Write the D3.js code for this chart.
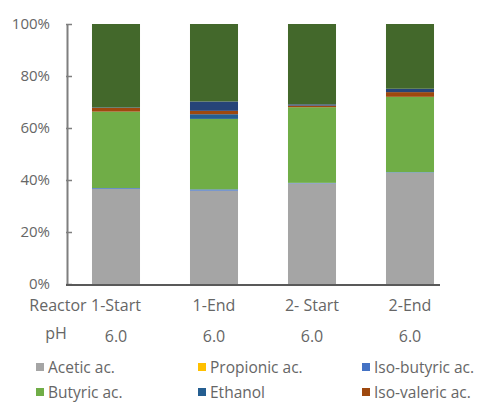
<html>
  <head>
    <title>Stacked composition</title>
    <script src="https://d3js.org/d3.v7.min.js"></script>
    <style>
      body { margin: 0; background: #fff; }
      text { font-family: "Open Sans", Lato, sans-serif; fill: #666; }
    </style>
  </head>
  <body>
    <svg width="478" height="403" id="chart"></svg>
  </body>

  <script type="text/javascript">
    // samples along the x axis
    var samples = ["1-Start", "1-End", "2- Start", "2-End"];
    var phValues = ["6.0", "6.0", "6.0", "6.0"];

    // percentage of each compound per sample (bottom to top)
    var acetic     = [36.6, 35.9, 38.7, 42.8];
    var propionic  = [0.0, 0.0, 0.0, 0.0];
    var isoButyric = [0.3, 0.5, 0.2, 0.2];
    var butyric    = [29.4, 27.1, 29.1, 29.0];
    var ethanol    = [0.0, 1.8, 0.0, 0.0];
    var isoValeric = [1.4, 1.3, 0.6, 1.8];
    var valeric    = [0.2, 3.6, 0.5, 1.3];
    var caproic    = [32.1, 29.8, 30.9, 24.9];

    var seriesNames = ["Acetic ac.", "Propionic ac.", "Iso-butyric ac.", "Butyric ac.",
                       "Ethanol", "Iso-valeric ac.", "Valeric ac.", "Caproic ac."];
    var seriesValues = [acetic, propionic, isoButyric, butyric, ethanol, isoValeric, valeric, caproic];
    var seriesColors = ["#a5a5a5", "#ffc000", "#4472c4", "#70ad47",
                        "#255e91", "#9e480e", "#264478", "#43682b"];

    var yTicks = [0, 20, 40, 60, 80, 100];

    // rows for d3.stack
    var rows = samples.map(function(s, i) {
      var r = { sample: s };
      seriesNames.forEach(function(n, j) { r[n] = seriesValues[j][i]; });
      return r;
    });

    var svg = d3.select("#chart");

    var x = d3.scaleBand().domain(samples).range([67, 459]).paddingInner(0.51).paddingOuter(0.255);
    var y = d3.scaleLinear().domain([0, 100]).range([284, 24]);

    var stacked = d3.stack().keys(seriesNames)(rows);

    svg.append("g").selectAll("g")
      .data(stacked)
      .enter().append("g")
        .attr("fill", function(d, i) { return seriesColors[i]; })
      .selectAll("rect")
      .data(function(d) { return d; })
      .enter().append("rect")
        .attr("x", function(d) { return x(d.data.sample); })
        .attr("width", x.bandwidth())
        .attr("y", function(d) { return y(d[1]); })
        .attr("height", function(d) { return y(d[0]) - y(d[1]); });

    // y axis
    var yAxis = svg.append("g")
      .attr("transform", "translate(67,0)")
      .call(d3.axisLeft(y).tickValues(yTicks).tickSize(0).tickPadding(17)
        .tickFormat(function(d) { return d + "%"; }));
    yAxis.select(".domain").attr("stroke", "#7f7f7f").attr("stroke-width", 2);
    yAxis.selectAll("text").style("font-size", "15px").attr("fill", "#666");
    yAxis.selectAll(".tick").append("line")
      .attr("x1", -1).attr("x2", 5)
      .attr("stroke", "#7f7f7f").attr("stroke-width", 1.5);

    // baseline
    svg.append("line")
      .attr("x1", 66).attr("x2", 440)
      .attr("y1", y(0) + 1).attr("y2", y(0) + 1)
      .attr("stroke", "#595959").attr("stroke-width", 2);

    // category rows
    svg.append("text").attr("x", 58).attr("y", 311)
      .attr("text-anchor", "middle").style("font-size", "16px").text("Reactor");
    svg.append("text").attr("x", 56).attr("y", 339)
      .attr("text-anchor", "middle").style("font-size", "16px").text("pH");

    svg.append("g").selectAll("text")
      .data(samples)
      .enter().append("text")
        .attr("x", function(d) { return x(d) + x.bandwidth() / 2; })
        .attr("y", 311)
        .attr("text-anchor", "middle")
        .style("font-size", "16px")
        .text(function(d) { return d; });

    svg.append("g").selectAll("text")
      .data(phValues)
      .enter().append("text")
        .attr("x", function(d, i) { return x(samples[i]) + x.bandwidth() / 2; })
        .attr("y", 342)
        .attr("text-anchor", "middle")
        .style("font-size", "16px")
        .text(function(d) { return d; });

    // legend (only the first six entries fit in the picture)
    var legendX = [36, 198, 362];
    var legendY = [367, 392];
    var legend = svg.append("g").selectAll("g")
      .data(seriesNames.slice(0, 6))
      .enter().append("g")
        .attr("transform", function(d, i) {
          return "translate(" + legendX[i % 3] + "," + legendY[Math.floor(i / 3)] + ")";
        });
    legend.append("rect")
      .attr("x", 0).attr("y", -4).attr("width", 8).attr("height", 8)
      .attr("fill", function(d, i) { return seriesColors[i]; });
    legend.append("text")
      .attr("x", 12).attr("y", 5.5)
      .style("font-size", "15.5px")
      .text(function(d) { return d; });
  </script>
</html>
